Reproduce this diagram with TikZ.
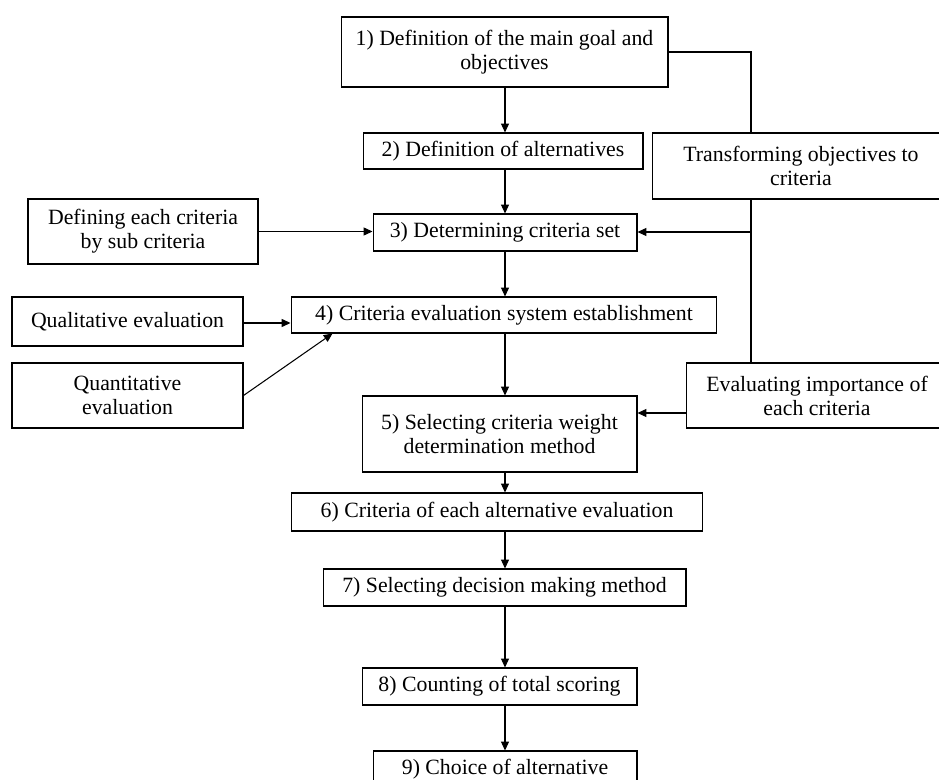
\documentclass[tikz,border=0pt]{standalone}
\usepackage{fontspec}
\setmainfont{Liberation Serif}
\usetikzlibrary{arrows.meta}

\tikzset{
	box/.style={draw, rectangle, align=center, inner sep=0pt, line width=0.6pt,
		font=\fontsize{12.4pt}{13.6pt}\selectfont},
	arr/.style={-{Triangle[length=5pt,width=4.5pt]}, line width=0.6pt},
	link/.style={line width=0.6pt}
}

\begin{document}
\begin{tikzpicture}[x=0.02cm, y=-0.02cm]
		\clip (0,0) rectangle (939,780);
		\fill[white] (0,0) rectangle (939,780);
		
		% Main steps
		\node[box, minimum width=6.54cm, minimum height=1.4cm] (b1) at (504.5,52) {1) Definition of the main goal and\\objectives};
		\node[box, minimum width=5.6cm, minimum height=0.72cm] (b2) at (503,151) {2) Definition of alternatives};
		\node[box, minimum width=5.28cm, minimum height=0.74cm] (b3) at (505,232.5) {3) Determining criteria set};
		\node[box, minimum width=8.52cm, minimum height=0.72cm] (b4) at (504,315) {4) Criteria evaluation system establishment};
		\node[box, minimum width=5.5cm, minimum height=1.52cm] (b5) at (499.5,434) {5) Selecting criteria weight\\determination method};
		\node[box, minimum width=8.24cm, minimum height=0.76cm] (b6) at (497,512) {6) Criteria of each alternative evaluation};
		\node[box, minimum width=7.26cm, minimum height=0.74cm] (b7) at (504.5,587.5) {7) Selecting decision making method};
		\node[box, minimum width=5.5cm, minimum height=0.74cm] (b8) at (499.5,686.5) {8) Counting of total scoring};
		\node[box, minimum width=5.28cm, minimum height=0.74cm] (b9) at (505,769.5) {9) Choice of alternative};
		
		% Side boxes
		\node[box, minimum width=5.96cm, minimum height=1.32cm] (trans) at (801,166) {Transforming objectives to\\criteria};
		\node[box, minimum width=5.24cm, minimum height=1.3cm] (eval) at (817,395.5) {Evaluating importance of\\each criteria};
		\node[box, minimum width=4.6cm, minimum height=1.3cm] (sub) at (143,231.5) {Defining each criteria\\by sub criteria};
		\node[box, minimum width=4.62cm, minimum height=0.98cm] (qual) at (127.5,321.5) {Qualitative evaluation};
		\node[box, minimum width=4.62cm, minimum height=1.3cm] (quant) at (127.5,395.5) {Quantitative\\evaluation};
		
		\coordinate (spine) at (505,0);
		\coordinate (tj) at (751,232);
		
		% Main flow
		\draw[arr] (spine |- b1.south) -- (spine |- b2.north);
		\draw[arr] (spine |- b2.south) -- (spine |- b3.north);
		\draw[arr] (spine |- b3.south) -- (spine |- b4.north);
		\draw[arr] (spine |- b4.south) -- (spine |- b5.north);
		\draw[arr] (spine |- b5.south) -- (spine |- b6.north);
		\draw[arr] (spine |- b6.south) -- (spine |- b7.north);
		\draw[arr] (spine |- b7.south) -- (spine |- b8.north);
		\draw[arr] (spine |- b8.south) -- (spine |- b9.north);
		
		% Right branch
		\draw[link] (b1.east) -| (tj |- trans.north);
		\draw[link] (tj |- trans.south) -- (tj |- eval.north);
		\draw[arr] (tj) -- (tj -| b3.east);
		\draw[arr] ([yshift=-0.35cm]eval.west) -- ([yshift=-0.35cm]eval.west -| b5.east);
		
		% Left branch
		\draw[arr] (sub.east) -- (sub.east -| b3.west);
		\draw[arr] ([yshift=-0.03cm]qual.east) -- ([yshift=-0.03cm]qual.east -| b4.west);
		\draw[arr] (quant.east) -- ([xshift=0.84cm]b4.south west);
		
	\end{tikzpicture}
\end{document}
